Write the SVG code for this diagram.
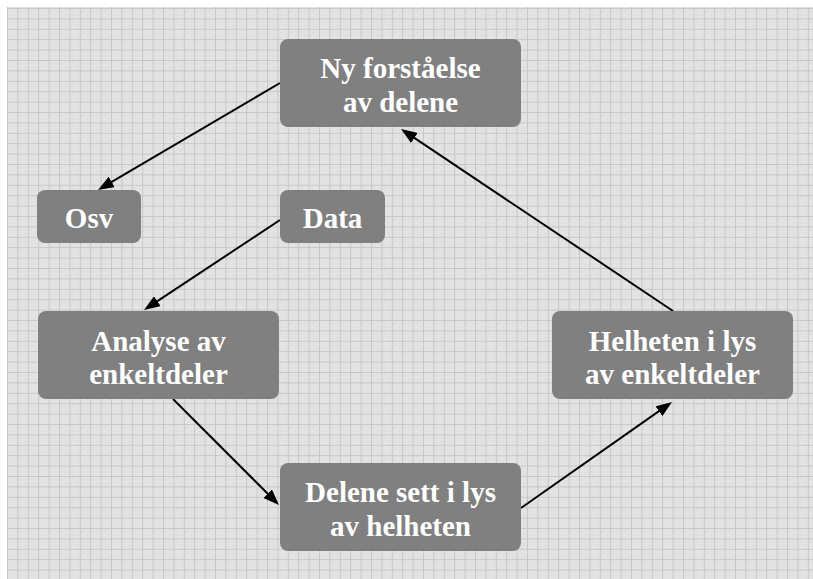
<svg xmlns="http://www.w3.org/2000/svg" width="813" height="579" viewBox="0 0 813 579">
  <defs>
    <pattern id="grid" patternUnits="userSpaceOnUse" x="7" y="8" width="10.4" height="10.4">
      <rect width="10.4" height="10.4" fill="#e3e3e3"/>
      <rect x="3" y="3" width="1" height="1" fill="#d4d4d4"/>
      <rect x="7" y="6" width="1" height="1" fill="#d4d4d4"/>
      <path d="M0.5 0V10.4M0 0.5H10.4" stroke="#c6c6c6" stroke-width="1" fill="none"/>
    </pattern>
    <marker id="arrow" markerUnits="userSpaceOnUse" markerWidth="16" markerHeight="12" refX="4" refY="6" orient="auto">
      <path d="M0,0 L16,6 L0,12 z" fill="#000"/>
    </marker>
  </defs>
  <style>
    .box { fill: #808080; }
    .label { font-family: "Liberation Serif", "Times New Roman", serif; font-weight: bold; font-size: 29px; fill: #ffffff; text-anchor: middle; }
    .edge { stroke: #000; stroke-width: 2; fill: none; marker-end: url(#arrow); }
  </style>

  <!-- paper background -->
  <rect width="813" height="579" fill="#ffffff"/>
  <rect x="7" y="7" width="806" height="572" fill="url(#grid)"/>

  <!-- connectors -->
  <g id="connectors">
    <line class="edge" x1="280" y1="83" x2="108.3" y2="183.9"/>
    <line class="edge" x1="280" y1="220" x2="154" y2="303.4"/>
    <line class="edge" x1="173" y1="399" x2="270.5" y2="496.5"/>
    <line class="edge" x1="521" y1="508" x2="662.2" y2="408.9"/>
    <line class="edge" x1="673" y1="311" x2="411" y2="135.7"/>
  </g>

  <!-- nodes -->
  <g id="ny-forstaaelse">
    <rect class="box" x="280" y="39" width="241" height="88" rx="8"/>
    <text class="label" x="400.5" y="78">Ny forståelse</text>
    <text class="label" x="400.5" y="112">av delene</text>
  </g>
  <g id="osv">
    <rect class="box" x="37" y="190" width="104" height="53" rx="8"/>
    <text class="label" x="89" y="228">Osv</text>
  </g>
  <g id="data">
    <rect class="box" x="280" y="190" width="105" height="53" rx="8"/>
    <text class="label" x="332.5" y="228">Data</text>
  </g>
  <g id="analyse">
    <rect class="box" x="38" y="311" width="241" height="88" rx="8"/>
    <text class="label" x="158.5" y="351">Analyse av</text>
    <text class="label" x="158.5" y="384">enkeltdeler</text>
  </g>
  <g id="helheten">
    <rect class="box" x="552" y="311" width="241" height="88" rx="8"/>
    <text class="label" x="672.5" y="351">Helheten i lys</text>
    <text class="label" x="672.5" y="384">av enkeltdeler</text>
  </g>
  <g id="delene">
    <rect class="box" x="280" y="463" width="241" height="88" rx="8"/>
    <text class="label" x="400.5" y="502">Delene sett i lys</text>
    <text class="label" x="400.5" y="536">av helheten</text>
  </g>
</svg>
